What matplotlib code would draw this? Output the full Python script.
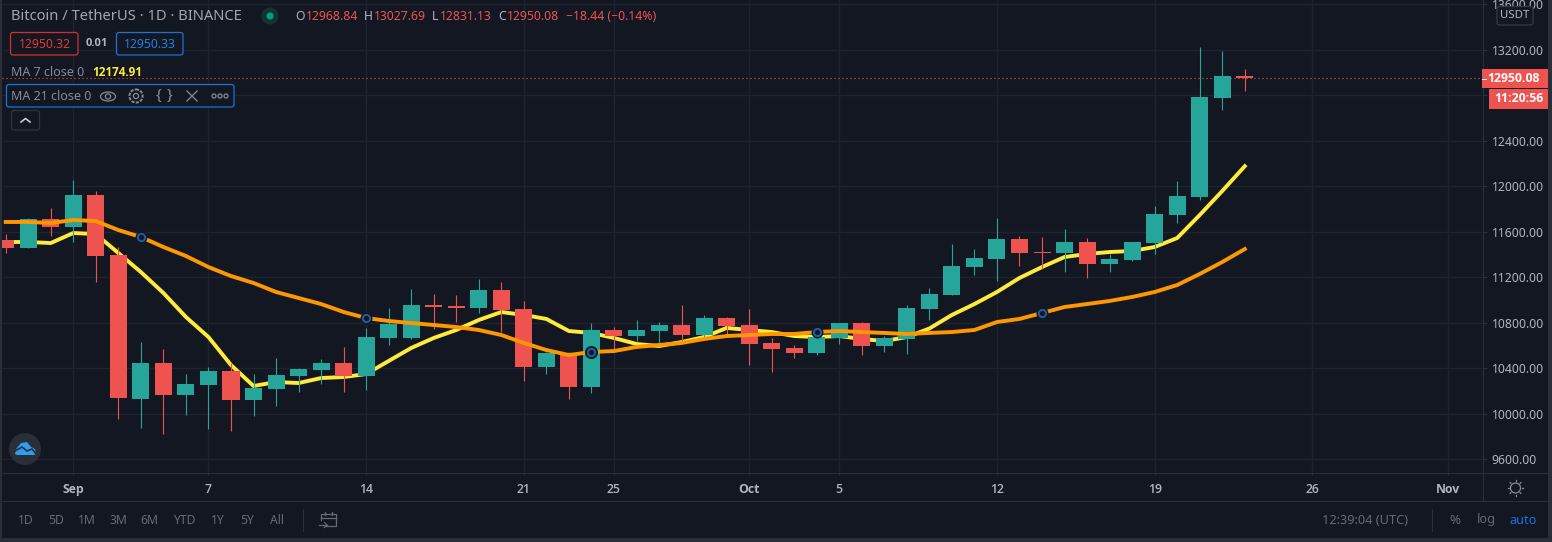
import matplotlib
matplotlib.use("Agg")
import matplotlib.pyplot as plt
from matplotlib.patches import Rectangle, FancyBboxPatch, Circle, Ellipse, Polygon

W, H = 1552, 542
BG = "#131722"; GRID = "#1f2330"; BORDER = "#2a2e39"; UP = "#26a69a"; DOWN = "#ef5350"
TXT = "#b2b5be"; DIM = "#878b94"; TOOL = "#666a75"; BLUE = "#1e72d6"
plt.rcParams["font.family"] = ["Noto Sans", "DejaVu Sans"]
BOLD = ["Open Sans", "DejaVu Sans"]

# day offsets relative to 1 Sep 2020
days = list(range(-3, 53))
opens = [11527, 11456, 11708, 11641, 11922, 11395, 10130, 10446, 10165, 10253, 10376, 10121, 10218, 10332,
         10385, 10446, 10332, 10666, 10666, 10956, 10947, 10929, 11087, 10920, 10411, 10516, 10235, 10736,
         10683, 10727, 10780, 10692, 10841, 10780, 10622, 10578, 10534, 10666, 10797, 10595, 10657, 10920,
         11043, 11289, 11360, 11535, 11421, 11412, 11509, 11316, 11351, 11500, 11746, 11904, 12774, 12968.84]
closes = [11456, 11708, 11641, 11922, 11386, 10139, 10446, 10165, 10262, 10376, 10121, 10226, 10341, 10393,
          10446, 10332, 10674, 10789, 10956, 10938, 10929, 11087, 10912, 10411, 10534, 10235, 10736, 10683,
          10736, 10780, 10692, 10841, 10771, 10613, 10569, 10534, 10674, 10797, 10595, 10666, 10929, 11052,
          11298, 11368, 11535, 11412, 11412, 11509, 11316, 11360, 11509, 11755, 11913, 12783, 12967, 12950.08]
highs = [11579, 11720, 11808, 12054, 11957, 11465, 10631, 10569, 10349, 10411, 10446, 10349, 10490, 10402,
         10481, 10587, 10754, 10929, 11096, 11052, 11043, 11184, 11158, 10991, 10543, 10543, 10797, 10762,
         10824, 10806, 10956, 10868, 10850, 10920, 10666, 10604, 10754, 10797, 10806, 10683, 10956, 11105,
         11491, 11448, 11720, 11562, 11553, 11623, 11544, 11404, 11509, 11825, 12045, 13222, 13187, 13027.69]
lows = [11412, 11456, 11562, 11509, 11158, 9954, 9875, 9822, 9989, 9866, 9849, 9980, 10068, 10191,
        10262, 10191, 10209, 10604, 10657, 10745, 10806, 10885, 10718, 10288, 10349, 10130, 10182, 10560,
        10639, 10604, 10630, 10666, 10692, 10428, 10367, 10490, 10516, 10613, 10516, 10543, 10525, 10824,
        11043, 11219, 11166, 11298, 11272, 11245, 11193, 11245, 11342, 11404, 11676, 11878, 12669, 12831.13]
ma7 = [11509, 11509, 11500, 11588, 11579, 11412, 11245, 11061, 10850, 10674, 10428, 10244, 10279, 10270,
       10314, 10323, 10349, 10464, 10578, 10666, 10736, 10824, 10894, 10868, 10833, 10727, 10710, 10666,
       10613, 10595, 10630, 10674, 10754, 10736, 10718, 10683, 10674, 10683, 10657, 10639, 10674, 10749,
       10868, 10964, 11070, 11193, 11289, 11377, 11404, 11421, 11430, 11465, 11544, 11746, 11957, 12174.91]
ma21 = [11685, 11685, 11676, 11702, 11693, 11614, 11553, 11465, 11386, 11289, 11210, 11149, 11070, 11017,
        10964, 10894, 10841, 10815, 10797, 10780, 10762, 10736, 10692, 10622, 10560, 10516, 10543, 10551,
        10587, 10604, 10622, 10657, 10683, 10692, 10701, 10701, 10718, 10727, 10718, 10710, 10701, 10710,
        10718, 10736, 10806, 10833, 10885, 10938, 10964, 10991, 11026, 11070, 11131, 11228, 11333, 11447]
marker_days = [3, 13, 23, 33, 43]
price_ticks = [9600, 10000, 10400, 10800, 11200, 11600, 12000, 12400, 12800, 13200, 13600]
time_ticks = [0, 6, 13, 20, 24, 30, 34, 41, 48, 55, 61]
time_labels = ["Sep", "7", "14", "21", "25", "Oct", "5", "12", "19", "26", "Nov"]
bold_labels = ["Sep", "Oct", "Nov"]
last_price = 12950.08

fig = plt.figure(figsize=(W / 100, H / 100), dpi=100, facecolor=BG)
ax = fig.add_axes([2 / W, (H - 472) / H, 1480 / W, 472 / H], facecolor=BG, zorder=1)
ax.set_xlim(-3.165, 62.53)
ax.set_ylim(9488.5, 13634.9)
for s in ax.spines.values():
    s.set_visible(False)
ax.yaxis.tick_right()
ax.set_yticks(price_ticks, [f"{p:.2f}" for p in price_ticks])
ax.set_xticks(time_ticks, time_labels)
ax.tick_params(axis="y", length=3.6, width=0.72, color=BORDER, labelcolor=TXT, labelsize=8.8, pad=3.4)
ax.tick_params(axis="x", length=2.4, width=0.72, color=BORDER, labelcolor=TXT, labelsize=8.8, pad=5.5)
for lab in ax.get_xticklabels():
    lab.set_fontfamily(BOLD)
    lab.set_fontweight("bold" if lab.get_text() in bold_labels else "semibold")
ax.grid(True, color=GRID, lw=1.0)
ax.set_axisbelow(True)

ax.plot(days, ma7, color="#ffeb3b", lw=2.8, zorder=2, solid_joinstyle="round")
for d, o, c, hi, lo in zip(days, opens, closes, highs, lows):
    col = UP if c >= o else DOWN
    ax.vlines(d, lo, hi, color=col, lw=0.8, zorder=3)
    ax.bar(d, abs(c - o), bottom=min(o, c), width=0.755, color=col, lw=0, zorder=3)
ax.plot(days, ma21, color="#ff9800", lw=2.8, zorder=4, solid_joinstyle="round")
ax.axhline(last_price, color=DOWN, lw=0.8, ls=(0, (1, 2.6)), zorder=2.5)
for d in marker_days:
    v = ma21[days.index(d)]
    big = d == 23
    ax.plot(d, v, "o", ms=9.4 if big else 8.6, mfc="#0f1a2b" if big else BG, mew=0, zorder=5)
    ax.plot(d, v, "o", ms=5.2, mfc=BG, mec="#1c5fa8", mew=1.4, zorder=6)

# pixel-space overlay for the interface furniture
ui = fig.add_axes([0, 0, 1, 1], facecolor="none", zorder=2)
ui.set_xlim(0, W)
ui.set_ylim(H, 0)
ui.axis("off")


def t(x, y, s, color=TXT, size=8.8, ha="left", weight="normal"):
    fam = BOLD if weight != "normal" else None
    ui.text(x, y, s, color=color, fontsize=size, ha=ha, va="center", fontweight=weight, family=fam)


def box(x0, y0, x1, y1, edge, face=BG, lw=0.9, r=2.5):
    ui.add_patch(FancyBboxPatch((x0, y0), x1 - x0, y1 - y0, boxstyle=f"round,pad=0,rounding_size={r}",
                                fc=face, ec=edge, lw=lw, zorder=3))


# frame and separators
ui.add_patch(Rectangle((0, 0), 2, H, fc=BORDER, lw=0))
ui.add_patch(Rectangle((1548, 0), 4, H, fc=BORDER, lw=0))
ui.add_patch(Rectangle((0, 538), W, 4, fc=BORDER, lw=0))
ui.plot([2, 1548], [472.5, 472.5], color=BORDER, lw=0.8)
ui.plot([2, 1548], [500.5, 500.5], color=BORDER, lw=0.8)
ui.plot([1482.5, 1482.5], [0, 500], color=BORDER, lw=0.8)

# header
t(11, 16.5, "Bitcoin / TetherUS · 1D · BINANCE", color="#a3a6af", size=10.6)
ui.add_patch(Circle((270, 16), 8.5, fc="#12332f", lw=0))
ui.add_patch(Circle((270, 16), 3.6, fc="#089981", lw=0))
for x, k, x2, v in [(295, "O", 306, "12968.84"), (364, "H", 374, "13027.69"),
                    (432, "L", 440, "12831.13"), (498, "C", 507, "12950.08")]:
    t(x, 17, k, color=TXT, size=8.8)
    t(x2, 17, v, color=DOWN, size=8.8)
t(566, 17, "−18.44 (−0.14%)", color=DOWN, size=8.8)

box(10.5, 32.5, 78, 55, "#d32f2f")
t(44.5, 44, "12950.32", color="#e53935", size=8.8, ha="center")
t(86, 44, "0.01", color=TXT, size=8, weight="bold")
box(116.5, 32.5, 183, 55, BLUE)
t(150, 44, "12950.33", color="#2080e8", size=8.8, ha="center")

t(11, 73, "MA 7 close 0", color=DIM, size=9)
t(92, 73, "12174.91", color="#ffeb3b", size=8.4, weight="bold")
box(6.5, 84.5, 234, 107, BLUE)
t(11, 96, "MA 21 close 0", color=DIM, size=9)
# eye
ui.add_patch(Ellipse((108, 96.5), 15, 9, fc="none", ec=DIM, lw=0.9, zorder=4))
ui.add_patch(Circle((108, 96.5), 2.6, fc="none", ec=DIM, lw=0.9, zorder=4))
# gear
ui.add_patch(Circle((136, 96), 6.6, fc="none", ec=DIM, lw=1.4, ls=(0, (1.6, 0.7)), zorder=4))
ui.add_patch(Circle((136, 96), 2.6, fc="none", ec=DIM, lw=0.9, zorder=4))
# braces
ui.text(159, 95.5, "{", color=DIM, fontsize=11, ha="center", va="center", zorder=4)
ui.text(169, 95.5, "}", color=DIM, fontsize=11, ha="center", va="center", zorder=4)
# cross
ui.plot([187, 197], [91, 101], color=DIM, lw=0.9, zorder=4)
ui.plot([187, 197], [101, 91], color=DIM, lw=0.9, zorder=4)
# dots
for x in (214, 220, 226):
    ui.add_patch(Circle((x, 96), 2, fc="none", ec=DIM, lw=0.9, zorder=4))
box(11.5, 110.5, 39.5, 130, "#2f333e")
ui.plot([21, 25.5, 30], [122, 118.5, 122], color="#c8cad0", lw=1.2, zorder=4)

# price side tags
ui.add_patch(Rectangle((1482, 69), 66, 19, fc=DOWN, lw=0, zorder=3))
ui.text(1540, 78.5, f"{last_price:.2f}", color="white", fontsize=8.8, ha="right", va="center",
        fontweight="bold", family=BOLD, zorder=4)
ui.plot([1482, 1486], [78.5, 78.5], color="white", lw=0.7, zorder=4)
ui.add_patch(Rectangle((1489, 89), 59, 19.5, fc=DOWN, lw=0, zorder=3))
ui.text(1518.5, 98.5, "11:20:56", color="white", fontsize=8.8, ha="center", va="center",
        fontweight="bold", family=BOLD, zorder=4)
box(1497, 6.5, 1533, 25, "#363a45")
ui.text(1515, 15.5, "USDT", color=TXT, fontsize=8.2, ha="center", va="center", zorder=4)

# logo
ui.add_patch(Circle((25, 449), 16, fc="#2a2e39", lw=0))
ui.add_patch(Polygon([(15, 454), (16, 449), (21, 443), (27, 442), (31, 447), (35, 449), (36, 454), (34, 455), (17, 455)],
                     fc="#2e9fee", lw=0, zorder=3))
ui.plot([15, 22, 27, 32, 36], [451, 447, 451, 449, 454], color="#2a2e39", lw=1.2, zorder=4)

# settings icon
ui.add_patch(Circle((1515.5, 488), 5, fc="none", ec=DIM, lw=0.9))
for dx, dy in [(0, -7), (0, 7), (-7, 0), (7, 0), (-5, -5), (5, -5), (-5, 5), (5, 5)]:
    ui.plot([1515.5 + dx * 0.93, 1515.5 + dx * 1.08], [488 + dy * 0.93, 488 + dy * 1.08], color=DIM, lw=0.9)

# bottom toolbar
for x, s in [(26, "1D"), (56, "5D"), (87, "1M"), (118, "3M"), (149, "6M"), (184, "YTD"),
             (218, "1Y"), (247, "5Y"), (277, "All")]:
    t(x, 520, s, color=TOOL, size=8.8, ha="center")
ui.plot([302.5, 302.5], [509, 531], color=BORDER, lw=0.8)
ui.plot([1431.5, 1431.5], [509, 531], color=BORDER, lw=0.8)
ui.plot([321, 321, 336, 336, 325], [520, 514, 514, 526, 526], color=TOOL, lw=0.9)
ui.plot([321, 336], [517.5, 517.5], color=TOOL, lw=0.9)
ui.plot([325, 325], [512, 515], color=TOOL, lw=0.9)
ui.plot([332, 332], [512, 515], color=TOOL, lw=0.9)
ui.plot([319, 327], [525, 525], color=TOOL, lw=0.9)
ui.plot([324.5, 327, 324.5], [522.5, 525, 527.5], color=TOOL, lw=0.9)
t(1322, 520, "12:39:04 (UTC)", color=TOOL, size=9.2)
t(1455, 520, "%", color=TOOL, size=9.6, ha="center")
t(1486, 520, "log", color=TOOL, size=9.2, ha="center")
t(1523, 520, "auto", color="#1f6fe0", size=9.2, ha="center")

fig.savefig("out.png", dpi=100, facecolor=BG)
